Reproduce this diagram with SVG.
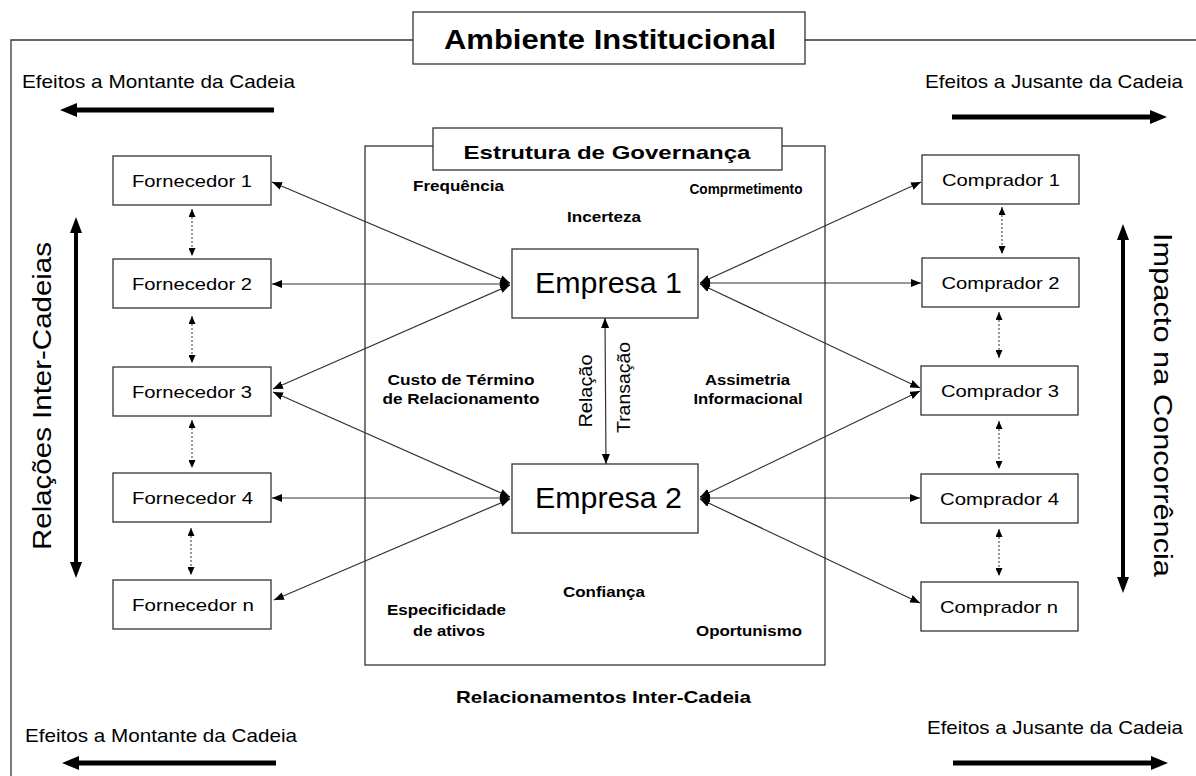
<svg xmlns="http://www.w3.org/2000/svg" width="1196" height="776" viewBox="0 0 1196 776">
<defs>
<style>
.frame{fill:none;stroke:#333;stroke-width:1.3}
.box{fill:#fff;stroke:#333;stroke-width:1.3}
.con{fill:none;stroke:#333;stroke-width:1.2;marker-start:url(#ah);marker-end:url(#ah)}
.dot{fill:none;stroke:#333;stroke-width:1;stroke-dasharray:2,2;marker-start:url(#dh);marker-end:url(#dh)}
.thick{stroke:#000;stroke-width:5;fill:none}
.head{fill:#000}
.t{font-family:"Liberation Sans",Arial,sans-serif;fill:#000}
.node{font-size:17px;text-anchor:middle}
.lbl{font-size:14px;font-weight:bold;text-anchor:middle}
.eff{font-size:19px}
</style>
<marker id="ah" viewBox="0 0 10 8" refX="10" refY="4" markerWidth="10" markerHeight="8" markerUnits="userSpaceOnUse" orient="auto-start-reverse">
<path d="M0,0 L10,4 L0,8 z" fill="#000"/>
</marker>
<marker id="dh" viewBox="0 0 8 7" refX="8" refY="3.5" markerWidth="8" markerHeight="7" markerUnits="userSpaceOnUse" orient="auto-start-reverse">
<path d="M0,0 L8,3.5 L0,7 z" fill="#000"/>
</marker>
</defs>
<rect width="1196" height="776" fill="#fff"/>

<g id="frame">
<path class="frame" d="M413,40 H11 V776 M805,40 H1196"/>
</g>

<g id="ambiente">
<rect class="box" x="413" y="12" width="392" height="52"/>
<text class="t" x="610" y="49" font-size="28" font-weight="bold" text-anchor="middle" textLength="332" lengthAdjust="spacingAndGlyphs">Ambiente Institucional</text>
</g>

<g id="efeitos">
<text class="t eff" x="22" y="88" textLength="273" lengthAdjust="spacingAndGlyphs">Efeitos a Montante da Cadeia</text>
<line class="thick" x1="274" y1="110" x2="76" y2="110"/>
<polygon class="head" points="60,110 77,103 77,117"/>
<text class="t eff" x="925" y="88" textLength="258" lengthAdjust="spacingAndGlyphs">Efeitos a Jusante da Cadeia</text>
<line class="thick" x1="952" y1="117" x2="1151" y2="117"/>
<polygon class="head" points="1167,117 1150,110 1150,124"/>
<text class="t eff" x="25" y="742" textLength="272" lengthAdjust="spacingAndGlyphs">Efeitos a Montante da Cadeia</text>
<line class="thick" x1="276" y1="763" x2="78" y2="763"/>
<polygon class="head" points="62,763 79,756 79,770"/>
<text class="t eff" x="927" y="734" textLength="256" lengthAdjust="spacingAndGlyphs">Efeitos a Jusante da Cadeia</text>
<line class="thick" x1="953" y1="763" x2="1152" y2="763"/>
<polygon class="head" points="1168,763 1151,756 1151,770"/>
</g>

<g id="relacoes">
<line x1="76" y1="231" x2="76" y2="564" stroke="#000" stroke-width="4"/>
<polygon class="head" points="76,217 70,233 82,233"/>
<polygon class="head" points="76,578 70,562 82,562"/>
<text class="t" transform="translate(51,396) rotate(-90)" x="0" y="0" font-size="26" text-anchor="middle" textLength="308" lengthAdjust="spacingAndGlyphs">Relações Inter-Cadeias</text>
</g>

<g id="impacto">
<line x1="1123" y1="238" x2="1123" y2="579" stroke="#000" stroke-width="4"/>
<polygon class="head" points="1123,224 1117,240 1129,240"/>
<polygon class="head" points="1123,593 1117,577 1129,577"/>
<text class="t" transform="translate(1154,405) rotate(90)" x="0" y="0" font-size="26" text-anchor="middle" textLength="344" lengthAdjust="spacingAndGlyphs">Impacto na Concorrência</text>
</g>

<g id="governanca">
<rect class="frame" x="365" y="146" width="460" height="519"/>
<rect class="box" x="433" y="128" width="349" height="42"/>
<text class="t" x="607" y="159" font-size="19" font-weight="bold" text-anchor="middle" textLength="287" lengthAdjust="spacingAndGlyphs">Estrutura de Governança</text>
<text class="t lbl" x="458.5" y="191" textLength="91" lengthAdjust="spacingAndGlyphs">Frequência</text>
<text class="t lbl" x="746" y="194" textLength="113" lengthAdjust="spacingAndGlyphs">Comprmetimento</text>
<text class="t lbl" x="604" y="222" textLength="74" lengthAdjust="spacingAndGlyphs">Incerteza</text>
<text class="t lbl" x="461" y="385" textLength="147" lengthAdjust="spacingAndGlyphs">Custo de Término</text>
<text class="t lbl" x="461" y="404" textLength="157" lengthAdjust="spacingAndGlyphs">de Relacionamento</text>
<text class="t lbl" x="747.5" y="385" textLength="85" lengthAdjust="spacingAndGlyphs">Assimetria</text>
<text class="t lbl" x="748" y="404" textLength="109" lengthAdjust="spacingAndGlyphs">Informacional</text>
<text class="t lbl" x="604" y="597" textLength="82" lengthAdjust="spacingAndGlyphs">Confiança</text>
<text class="t lbl" x="446.5" y="615" textLength="119" lengthAdjust="spacingAndGlyphs">Especificidade</text>
<text class="t lbl" x="449" y="636" textLength="72" lengthAdjust="spacingAndGlyphs">de ativos</text>
<text class="t lbl" x="749" y="636" textLength="106" lengthAdjust="spacingAndGlyphs">Oportunismo</text>
</g>

<g id="relacionamentos">
<text class="t" x="603.5" y="703" font-size="17" font-weight="bold" text-anchor="middle" textLength="295" lengthAdjust="spacingAndGlyphs">Relacionamentos Inter-Cadeia</text>
</g>

<g id="connectors">
<line class="con" x1="272" y1="182" x2="510" y2="283"/>
<line class="con" x1="272" y1="284" x2="510" y2="284"/>
<line class="con" x1="273" y1="389" x2="510" y2="285"/>
<line class="con" x1="273" y1="392" x2="510" y2="497"/>
<line class="con" x1="272" y1="498" x2="510" y2="498"/>
<line class="con" x1="274" y1="600" x2="510" y2="499"/>
<line class="con" x1="700" y1="283" x2="921" y2="182"/>
<line class="con" x1="700" y1="283" x2="921" y2="283"/>
<line class="con" x1="700" y1="284" x2="920" y2="388"/>
<line class="con" x1="700" y1="497" x2="920" y2="391"/>
<line class="con" x1="700" y1="498" x2="920" y2="498"/>
<line class="con" x1="700" y1="499" x2="920" y2="603"/>
<line class="con" x1="605" y1="318" x2="606" y2="464"/>
<line class="dot" x1="192" y1="209" x2="192" y2="256"/>
<line class="dot" x1="192" y1="316" x2="192" y2="363"/>
<line class="dot" x1="192" y1="420" x2="192" y2="468"/>
<line class="dot" x1="191" y1="528" x2="191" y2="575"/>
<line class="dot" x1="1002" y1="207" x2="1002" y2="254"/>
<line class="dot" x1="999" y1="312" x2="999" y2="358"/>
<line class="dot" x1="999" y1="421" x2="999" y2="469"/>
<line class="dot" x1="999" y1="529" x2="999" y2="576"/>
</g>

<g id="rel-labels">
<text class="t" transform="translate(592,391) rotate(-90)" font-size="18" text-anchor="middle" textLength="73" lengthAdjust="spacingAndGlyphs">Relação</text>
<text class="t" transform="translate(630,387.5) rotate(-90)" font-size="18" text-anchor="middle" textLength="91" lengthAdjust="spacingAndGlyphs">Transação</text>
</g>

<g id="empresa1">
<rect class="box" x="512" y="249" width="186" height="69"/>
<text class="t" x="608.5" y="293" font-size="29" text-anchor="middle" textLength="147" lengthAdjust="spacingAndGlyphs">Empresa 1</text>
</g>
<g id="empresa2">
<rect class="box" x="512" y="464" width="186" height="69"/>
<text class="t" x="608.5" y="508" font-size="29" text-anchor="middle" textLength="147" lengthAdjust="spacingAndGlyphs">Empresa 2</text>
</g>

<g id="fornecedor1">
<rect class="box" x="113" y="156" width="158" height="49"/>
<text class="t node" x="192" y="187" textLength="120" lengthAdjust="spacingAndGlyphs">Fornecedor 1</text>
</g>
<g id="fornecedor2">
<rect class="box" x="113" y="259" width="158" height="49"/>
<text class="t node" x="192" y="290" textLength="120" lengthAdjust="spacingAndGlyphs">Fornecedor 2</text>
</g>
<g id="fornecedor3">
<rect class="box" x="113" y="367" width="158" height="49"/>
<text class="t node" x="192" y="398" textLength="120" lengthAdjust="spacingAndGlyphs">Fornecedor 3</text>
</g>
<g id="fornecedor4">
<rect class="box" x="113" y="473" width="158" height="49"/>
<text class="t node" x="192.5" y="504" textLength="121" lengthAdjust="spacingAndGlyphs">Fornecedor 4</text>
</g>
<g id="fornecedorn">
<rect class="box" x="113" y="580" width="158" height="49"/>
<text class="t node" x="193" y="611" textLength="122" lengthAdjust="spacingAndGlyphs">Fornecedor n</text>
</g>

<g id="comprador1">
<rect class="box" x="922" y="155" width="157" height="49"/>
<text class="t node" x="1001" y="186" textLength="118" lengthAdjust="spacingAndGlyphs">Comprador 1</text>
</g>
<g id="comprador2">
<rect class="box" x="922" y="258" width="157" height="49"/>
<text class="t node" x="1000.5" y="289" textLength="118" lengthAdjust="spacingAndGlyphs">Comprador 2</text>
</g>
<g id="comprador3">
<rect class="box" x="921" y="366" width="157" height="49"/>
<text class="t node" x="1000" y="397" textLength="118" lengthAdjust="spacingAndGlyphs">Comprador 3</text>
</g>
<g id="comprador4">
<rect class="box" x="921" y="474" width="157" height="49"/>
<text class="t node" x="999.5" y="505" textLength="119" lengthAdjust="spacingAndGlyphs">Comprador 4</text>
</g>
<g id="compradorn">
<rect class="box" x="921" y="582" width="157" height="49"/>
<text class="t node" x="999" y="613" textLength="118" lengthAdjust="spacingAndGlyphs">Comprador n</text>
</g>
</svg>
